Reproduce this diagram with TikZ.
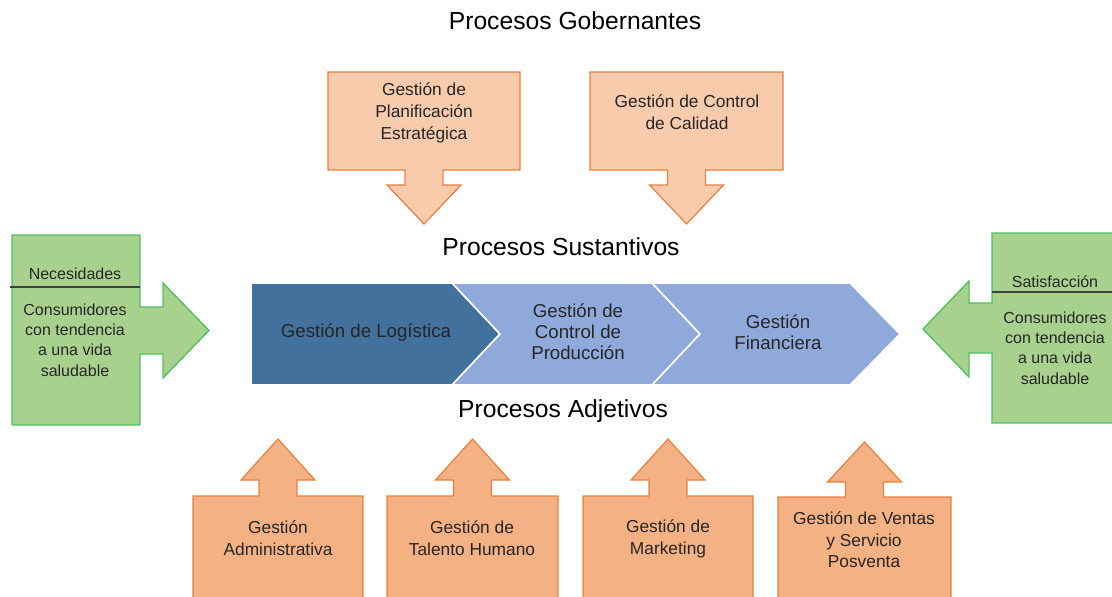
\documentclass[tikz,border=0pt]{standalone}
\usepackage{fontspec}
\setmainfont{Liberation Sans}
\usetikzlibrary{positioning}
\definecolor{gobPeach}{RGB}{248,203,173}
\definecolor{adjPeach}{RGB}{244,177,131}
\definecolor{peachEdge}{RGB}{233,128,62}
\definecolor{needGreen}{RGB}{169,209,142}
\definecolor{needEdge}{RGB}{78,192,98}
\definecolor{susDark}{RGB}{65,113,156}
\definecolor{susLight}{RGB}{143,170,218}
\definecolor{txtGray}{RGB}{38,38,38}

% vertical callout: style, left, right, box far edge, box near edge, stem end, tip
\newcommand{\vcallout}[7]{%
  \pgfmathsetmacro\cx{(#2+#3)/2}
  \path[#1] (#2,#4) -- (#3,#4) -- (#3,#5) -- (\cx+19,#5) -- (\cx+19,#6)
    -- (\cx+37,#6) -- (\cx,#7) -- (\cx-37,#6) -- (\cx-19,#6) -- (\cx-19,#5)
    -- (#2,#5) -- cycle;
}

\begin{document}
\begin{tikzpicture}[
    x=0.75pt, y=-0.75pt,
    title/.style={font=\fontsize{18.5}{22}\selectfont, text=black},
    gov box/.style={draw=peachEdge, fill=gobPeach, line width=0.9pt},
    adj box/.style={draw=peachEdge, fill=adjPeach, line width=0.9pt},
    need box/.style={draw=needEdge, fill=needGreen, line width=1pt},
    chevron/.style={draw=white, line width=1.2pt},
    box text/.style={align=center, text=txtGray, font=\fontsize{13}{16.2}\selectfont},
    need text/.style={align=center, text=txtGray, font=\fontsize{12}{15.2}\selectfont},
    step text/.style={align=center, text=black!85, font=\fontsize{14}{15.6}\selectfont}
]
  \useasboundingbox (0,0) rectangle (1112,596);
  \clip (0,0) rectangle (1112,596);

  % titles
  \node[title] (gob) at (575,21) {Procesos Gobernantes};
  \node[title] (sust) at (561,247) {Procesos Sustantivos};
  \node[title] (adj) at (563,411) {Procesos Adjetivos};

  % governing processes, pointing down
  \vcallout{gov box}{328}{520}{72}{170}{185}{224}
  \vcallout{gov box}{590}{783}{72}{170}{185}{224}
  \node[box text] (planif) at (424,113) {Gestión de\\Planificación\\Estratégica};
  \node[box text] (calidad) at (687,112) {Gestión de Control\\de Calidad};

  % core value chain
  \path[chevron, fill=susDark] (251,283) -- (452,283) -- (500,334) -- (452,385) -- (251,385) -- cycle;
  \path[chevron, fill=susLight] (452,283) -- (652,283) -- (700,334) -- (652,385) -- (452,385) -- (500,334) -- cycle;
  \path[chevron, fill=susLight] (652,283) -- (850,283) -- (900,334) -- (850,385) -- (652,385) -- (700,334) -- cycle;
  \node[step text] (logistica) at (366,333) {Gestión de Logística};
  \node[step text] (produccion) at (578,332) {Gestión de\\Control de\\Producción};
  \node[step text] (financiera) at (778,332) {Gestión\\Financiera};

  % needs on the left, satisfaction on the right
  \path[need box] (12,235) -- (140,235) -- (140,307) -- (163,307) -- (163,283)
    -- (209,330.5) -- (163,378) -- (163,354) -- (140,354) -- (140,425) -- (12,425) -- cycle;
  \path[need box] (1113,233) -- (992,233) -- (992,303) -- (969,303) -- (969,281)
    -- (923,329) -- (969,377) -- (969,353) -- (992,353) -- (992,423) -- (1113,423) -- cycle;
  \draw[black!75, line width=0.8pt] (10,287) -- (140,287);
  \draw[black!75, line width=0.8pt] (992,292) -- (1112,292);
  \node[need text] (necesidades) at (75,274) {Necesidades};
  \node[need text] (consumo) at (75,340) {Consumidores\\con tendencia\\a una vida\\saludable};
  \node[need text] (satisf) at (1055,282) {Satisfacción};
  \node[need text] (consumoSat) at (1055,348) {Consumidores\\con tendencia\\a una vida\\saludable};

  % supporting processes, pointing up
  \vcallout{adj box}{193}{363}{600}{496}{480}{439}
  \vcallout{adj box}{387}{558}{600}{496}{480}{439}
  \vcallout{adj box}{583}{753}{600}{496}{480}{439}
  \vcallout{adj box}{778}{951}{600}{497}{482}{442}
  \node[box text] (admin) at (278,538) {Gestión\\Administrativa};
  \node[box text] (talento) at (472,538) {Gestión de\\Talento Humano};
  \node[box text] (marketing) at (668,539) {Gestión de\\Marketing};
  \node[box text] (ventas) at (864,540) {Gestión de Ventas\\y Servicio\\Posventa};
\end{tikzpicture}
\end{document}
